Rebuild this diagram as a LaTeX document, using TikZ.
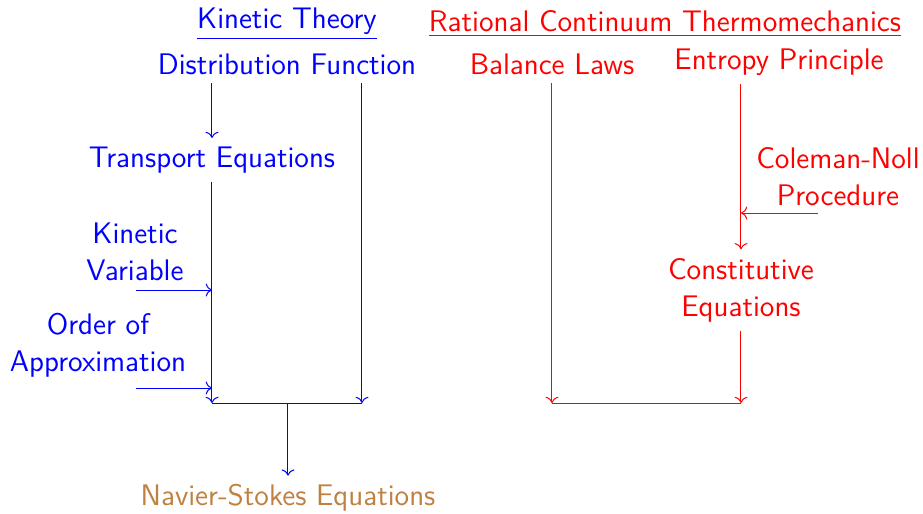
\documentclass[tikz,border=0pt]{standalone}
\usepackage{tikz}
\usetikzlibrary{arrows.meta,positioning,calc}

\begin{document}
\begin{tikzpicture}[
  x=0.4pt, y=-0.4pt,
  every node/.style={font=\sffamily\fontsize{11.9}{14.8}\selectfont, align=center},
  kin/.style={text=blue},
  rat/.style={text=red},
  kline/.style={blue, thin},
  rline/.style={red, thin},
  arrow/.style={->}
]
\useasboundingbox (0,0) rectangle (923,514);

% Kinetic theory side
\node[kin] (kt) at (287, 24) {\underline{Kinetic Theory}};
\node[kin] (dist) at (287, 64) {Distribution Function};
\node[kin] (trans) at (212, 160) {Transport Equations};
\node[kin] (kvar) at (135, 252) {Kinetic\\Variable};
\node[kin] (order) at (98, 345) {Order of\\Approximation};
\node[text=brown] (ns) at (288, 498) {Navier-Stokes Equations};

% Rational continuum side
\node[rat] (rct) at (665, 24) {\underline{Rational Continuum Thermomechanics}};
\node[rat] (bal) at (552, 64) {Balance Laws};
\node[rat] (ent) at (779, 62) {Entropy Principle};
\node[rat] (cnp) at (838, 177) {Coleman-Noll\\Procedure};
\node[rat] (const) at (741, 290) {Constitutive\\Equations};

% Junctions
\coordinate (jl) at (212, 403);
\coordinate (jr) at (362, 403);
\coordinate (jm) at (288, 403);
\coordinate (rl) at (552, 403);
\coordinate (rr) at (741, 403);
\coordinate (kin1) at (136, 290);
\coordinate (kin2) at (136, 388);
\coordinate (cn1) at (818, 213);

% Arrows
\draw[kline, arrow] (dist.south -| trans.north) -- (trans.north);
\draw[kline, arrow] (dist.south -| jr) -- (jr);
\draw[kline, arrow] (trans.south) -- (jl);
\draw[kline, arrow] (kin1) -- (kin1 -| jl);
\draw[kline, arrow] (kin2) -- (kin2 -| jl);
\draw[kline] (jl) -- (jr);
\draw[kline, arrow] (jm) -- (ns.north);

\draw[rline, arrow] (bal.south) -- (rl);
\draw[rline, arrow] (ent.south -| const.north) -- (const.north);
\draw[rline, arrow] (cn1) -- (cn1 -| const.north);
\draw[rline, arrow] (const.south) -- (rr);
\draw[rline] (rl) -- (rr);

\end{tikzpicture}
\end{document}
